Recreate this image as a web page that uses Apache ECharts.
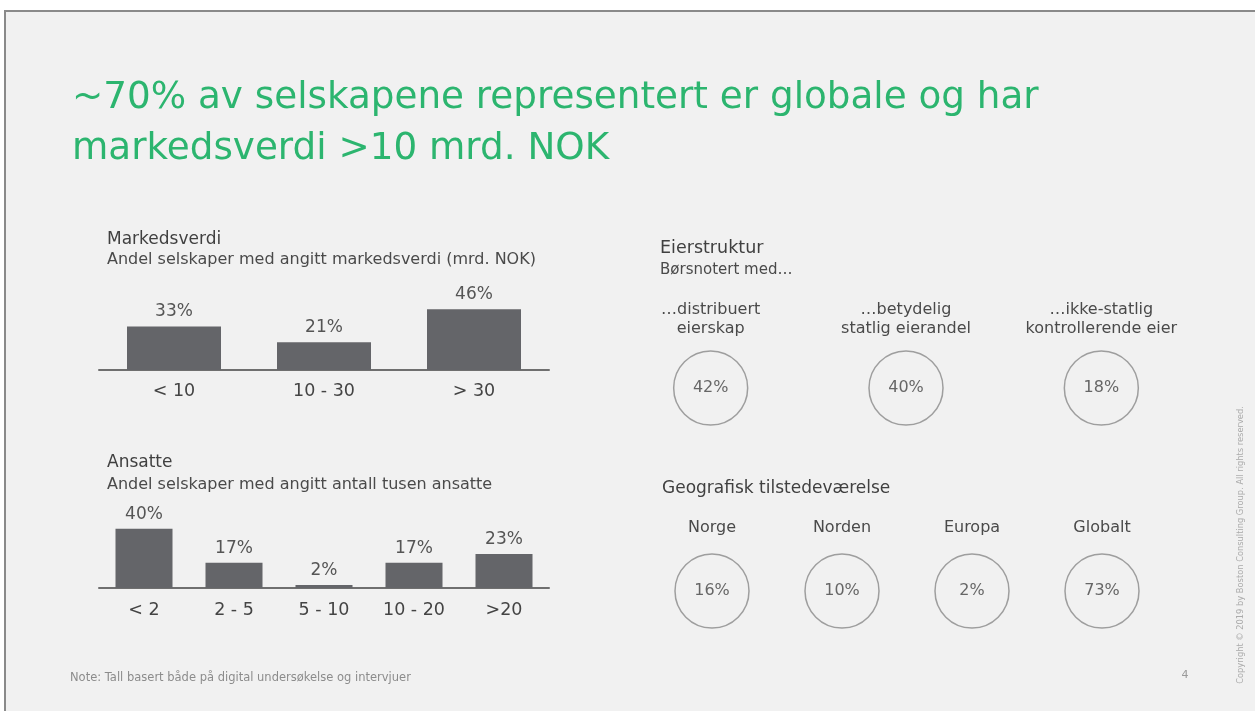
<!DOCTYPE html>
<html>
<head>
<meta charset="utf-8">
<script src="https://cdn.jsdelivr.net/npm/echarts@6/dist/echarts.min.js"></script>
<style>
  html, body { margin: 0; padding: 0; background: #ffffff; }
  #chart { width: 1255px; height: 711px; }
</style>
</head>
<body>
<div id="chart"></div>
<script>
// ---- Data ----
const markedCats = ['< 10', '10 - 30', '> 30'];
const markedValues = [33, 21, 46];

const ansatteCats = ['< 2', '2 - 5', '5 - 10', '10 - 20', '>20'];
const ansatteValues = [40, 17, 2, 17, 23];

const eierCats = ['…distribuert\neierskap', '…betydelig\nstatlig eierandel', '…ikke-statlig\nkontrollerende eier'];
const eierValues = [42, 40, 18];

const geoCats = ['Norge', 'Norden', 'Europa', 'Globalt'];
const geoValues = [16, 10, 2, 73];

// ---- Chart ----
const FONT = 'DejaVu Sans';
const chart = echarts.init(document.getElementById('chart'), null, { renderer: 'canvas' });

function sectionTitle(text, left, top, size, color) {
  return {
    text: text, left: left, top: top, padding: 0,
    textStyle: { fontFamily: FONT, fontSize: size, fontWeight: 'normal', color: color, lineHeight: 20 }
  };
}

const barColor = '#646569';
const axisLineStyle = { color: '#6f6f6f', width: 2 };

const option = {
  backgroundColor: '#ffffff',
  textStyle: { fontFamily: FONT },
  animation: false,
  graphic: [
    {
      type: 'rect', z: -100, silent: true,
      shape: { x: 5, y: 11, width: 1400, height: 900 },
      style: { fill: '#f1f1f1', stroke: '#8a8a8a', lineWidth: 2 }
    },
    {
      type: 'text', x: 1241, y: 545, rotation: Math.PI / 2, silent: true,
      style: { text: 'Copyright © 2019 by Boston Consulting Group. All rights reserved.', fill: '#ababab',
               fontFamily: FONT, fontSize: 8.3, align: 'center', verticalAlign: 'middle' }
    },
    {
      type: 'text', x: 1185, y: 675, silent: true,
      style: { text: '4', fill: '#9a9a9a', fontFamily: FONT, fontSize: 11, align: 'center', verticalAlign: 'middle' }
    }
  ],
  title: [
    {
      text: '~70% av selskapene representert er globale og har\nmarkedsverdi >10 mrd. NOK',
      left: 72, top: 73, padding: 0,
      textStyle: { fontFamily: FONT, fontSize: 37.3, fontWeight: 'normal', color: '#2cb56f', lineHeight: 51 }
    },
    sectionTitle('Markedsverdi', 107, 230, 17, '#404040'),
    sectionTitle('Andel selskaper med angitt markedsverdi (mrd. NOK)', 107, 250, 16, '#4a4a4a'),
    sectionTitle('Ansatte', 107, 453, 17, '#404040'),
    sectionTitle('Andel selskaper med angitt antall tusen ansatte', 107, 475, 16, '#4a4a4a'),
    sectionTitle('Eierstruktur', 660, 238, 17.5, '#404040'),
    sectionTitle('Børsnotert med…', 660, 260, 15, '#4a4a4a'),
    sectionTitle('Geografisk tilstedeværelse', 662, 479, 17, '#404040'),
    {
      text: 'Note: Tall basert både på digital undersøkelse og intervjuer',
      left: 70, top: 671, padding: 0,
      textStyle: { fontFamily: FONT, fontSize: 11.5, fontWeight: 'normal', color: '#8c8c8c', lineHeight: 14 }
    }
  ],
  grid: [
    { left: 99, top: 304, width: 450, height: 66 },
    { left: 99, top: 514, width: 450, height: 74 },
    { left: 613, top: 350, width: 586, height: 76 },
    { left: 647, top: 553, width: 520, height: 76 }
  ],
  xAxis: [
    {
      gridIndex: 0, type: 'category', data: markedCats,
      axisLine: { lineStyle: axisLineStyle }, axisTick: { show: false },
      axisLabel: { interval: 0, fontSize: 17.5, color: '#444444', margin: 12 }
    },
    {
      gridIndex: 1, type: 'category', data: ansatteCats,
      axisLine: { lineStyle: axisLineStyle }, axisTick: { show: false },
      axisLabel: { interval: 0, fontSize: 17.5, color: '#444444', margin: 13 }
    },
    {
      gridIndex: 2, type: 'category', data: eierCats, position: 'top',
      axisLine: { show: false }, axisTick: { show: false },
      axisLabel: { interval: 0, hideOverlap: false, fontSize: 16, color: '#4a4a4a', lineHeight: 19.5, margin: 11 }
    },
    {
      gridIndex: 3, type: 'category', data: geoCats, position: 'top',
      axisLine: { show: false }, axisTick: { show: false },
      axisLabel: { interval: 0, hideOverlap: false, fontSize: 16, color: '#4a4a4a', lineHeight: 19, margin: 16 }
    }
  ],
  yAxis: [
    { gridIndex: 0, type: 'value', min: 0, max: 50, show: false },
    { gridIndex: 1, type: 'value', min: 0, max: 50, show: false },
    { gridIndex: 2, type: 'category', data: ['v'], show: false },
    { gridIndex: 3, type: 'category', data: ['v'], show: false }
  ],
  series: [
    {
      type: 'bar', xAxisIndex: 0, yAxisIndex: 0, data: markedValues, barWidth: 94,
      itemStyle: { color: barColor },
      label: { show: true, position: 'top', distance: 6, formatter: '{c}%', fontSize: 17, color: '#555555' }
    },
    {
      type: 'bar', xAxisIndex: 1, yAxisIndex: 1, data: ansatteValues, barWidth: 57,
      itemStyle: { color: barColor },
      label: { show: true, position: 'top', distance: 6, formatter: '{c}%', fontSize: 17, color: '#555555' }
    },
    {
      type: 'scatter', xAxisIndex: 2, yAxisIndex: 2,
      data: eierValues.map((v, i) => [i, 0, v]),
      encode: { x: 0, y: 1 },
      symbol: 'circle', symbolSize: 74,
      itemStyle: { color: 'rgba(0,0,0,0)', borderColor: '#8a8a8a', borderWidth: 1.5 },
      label: { show: true, position: 'inside', formatter: p => p.value[2] + '%', fontSize: 16, color: '#444444' }
    },
    {
      type: 'scatter', xAxisIndex: 3, yAxisIndex: 3,
      data: geoValues.map((v, i) => [i, 0, v]),
      encode: { x: 0, y: 1 },
      symbol: 'circle', symbolSize: 74,
      itemStyle: { color: 'rgba(0,0,0,0)', borderColor: '#8a8a8a', borderWidth: 1.5 },
      label: { show: true, position: 'inside', formatter: p => p.value[2] + '%', fontSize: 16, color: '#444444' }
    }
  ]
};

chart.setOption(option);
</script>
</body>
</html>
